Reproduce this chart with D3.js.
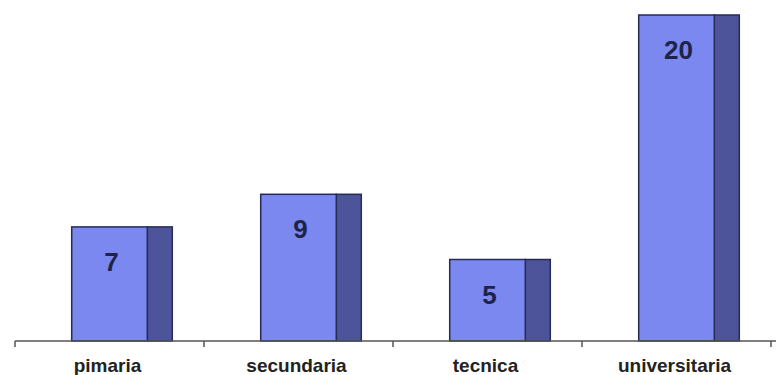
<!DOCTYPE html>
<html>
<head>
<meta charset="utf-8">
<script src="https://cdn.jsdelivr.net/npm/d3@7"></script>
<style>
  body { margin: 0; background: #fff; }
  svg { display: block; }
</style>
</head>
<body>
<div id="chart"></div>
<script>
const categories = ["pimaria", "secundaria", "tecnica", "universitaria"];
const values = [7, 9, 5, 20];

const W = 781, H = 375;
const margin = { top: 15, right: 10, bottom: 34, left: 15 };
const innerW = 771 - margin.left;
const innerH = 341 - margin.top;

const svg = d3.select("#chart").append("svg")
    .attr("width", W)
    .attr("height", H);

const g = svg.append("g")
    .attr("transform", `translate(${margin.left}, ${margin.top})`);

const x = d3.scaleBand()
    .domain(categories)
    .range([0, innerW])
    .paddingInner(0.6)
    .paddingOuter(0.3);

const y = d3.scaleLinear()
    .domain([0, 20])
    .range([innerH, 0]);

const sideW = 25;

const bars = g.selectAll(".bar")
    .data(categories.map((c, i) => ({ cat: c, value: values[i] })))
    .enter().append("g")
    .attr("class", "bar");

// side face
bars.append("rect")
    .attr("x", d => x(d.cat) + x.bandwidth())
    .attr("y", d => y(d.value))
    .attr("width", sideW)
    .attr("height", d => innerH - y(d.value))
    .attr("fill", "#4d5499")
    .attr("stroke", "#262b55")
    .attr("stroke-width", 1.5);

// front face
bars.append("rect")
    .attr("x", d => x(d.cat))
    .attr("y", d => y(d.value))
    .attr("width", x.bandwidth())
    .attr("height", d => innerH - y(d.value))
    .attr("fill", "#7a88ef")
    .attr("stroke", "#262b55")
    .attr("stroke-width", 1.5);

bars.append("text")
    .attr("x", d => x(d.cat) + x.bandwidth() / 2 + 2)
    .attr("y", d => y(d.value) + 35)
    .attr("dy", "0.35em")
    .attr("text-anchor", "middle")
    .style("font-family", "Liberation Sans, Arial, sans-serif")
    .style("font-weight", "bold")
    .style("font-size", "26px")
    .style("fill", "#1e2448")
    .text(d => d.value);

// axis
const axisScale = d3.scalePoint()
    .domain(d3.range(categories.length + 1))
    .range([0, innerW]);

const axisG = g.append("g")
    .attr("transform", `translate(0, ${innerH})`);

axisG.append("line")
    .attr("x1", 0)
    .attr("x2", innerW + 5)
    .attr("stroke", "#555")
    .attr("stroke-width", 1.5);

axisG.selectAll(".tick")
    .data(axisScale.domain())
    .enter().append("line")
    .attr("x1", d => axisScale(d))
    .attr("x2", d => axisScale(d))
    .attr("y1", 0)
    .attr("y2", 6)
    .attr("stroke", "#555")
    .attr("stroke-width", 1.5);

axisG.selectAll(".cat-label")
    .data(categories)
    .enter().append("text")
    .attr("class", "cat-label")
    .attr("x", d => axisScale(categories.indexOf(d)) + innerW / categories.length / 2 - 2)
    .attr("y", 24)
    .attr("dy", "0.35em")
    .attr("text-anchor", "middle")
    .style("font-family", "Liberation Sans, Arial, sans-serif")
    .style("font-weight", "bold")
    .style("font-size", "19px")
    .style("fill", "#222")
    .text(d => d);
</script>
</body>
</html>
